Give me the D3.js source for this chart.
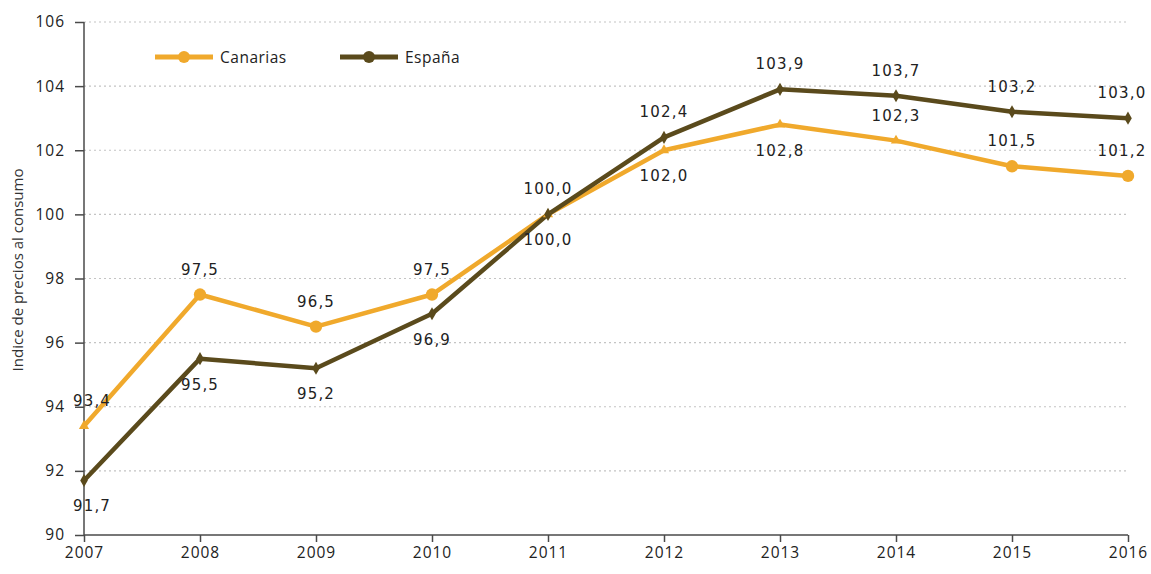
<!DOCTYPE html>
<html>
<head>
<meta charset="utf-8">
<script src="https://cdn.jsdelivr.net/npm/d3@7"></script>
<style>
  html, body { margin: 0; padding: 0; background: #fff; }
  svg { display: block; }
</style>
</head>
<body>
<svg id="chart" width="1151" height="574"></svg>
<script>
// Consumer price index, 2007-2016
const years = [2007, 2008, 2009, 2010, 2011, 2012, 2013, 2014, 2015, 2016];
const canarias = [93.4, 97.5, 96.5, 97.5, 100.0, 102.0, 102.8, 102.3, 101.5, 101.2];
const espana = [91.7, 95.5, 95.2, 96.9, 100.0, 102.4, 103.9, 103.7, 103.2, 103.0];
const yTicks = [90, 92, 94, 96, 98, 100, 102, 104, 106];
const seriesNames = ["Canarias", "España"];
const yTitle = "Indice de precios al consumo";

const colCan = "#F0A92C";
const colEsp = "#5A4A1C";

const svg = d3.select("#chart");
const x = d3.scaleLinear().domain([2007, 2016]).range([84, 1128]);
const y = d3.scaleLinear().domain([90, 106]).range([535, 22]);

// dotted gridlines
svg.append("g").selectAll("line")
  .data(yTicks.filter(t => t > 90))
  .join("line")
  .attr("x1", x(2007)).attr("x2", x(2016))
  .attr("y1", d => y(d)).attr("y2", d => y(d))
  .attr("stroke", "#c4c4c4").attr("stroke-width", 1.2)
  .attr("stroke-dasharray", "2,3");

// axes
const yAxis = svg.append("g").attr("transform", `translate(${x(2007)},0)`)
  .call(d3.axisLeft(y).tickValues(yTicks).tickSize(9).tickPadding(10).tickFormat(d3.format("d")));
const xAxis = svg.append("g").attr("transform", `translate(0,${y(90)})`)
  .call(d3.axisBottom(x).tickValues(years).tickSize(7).tickPadding(5).tickFormat(d3.format("d")));
[yAxis, xAxis].forEach(g => {
  g.select(".domain").attr("stroke", "#4a4a4a").attr("stroke-width", 1.5);
  g.selectAll(".tick line").attr("stroke", "#4a4a4a").attr("stroke-width", 1.5);
  g.selectAll("text").attr("font-family", "'Open Sans', sans-serif")
    .attr("font-size", 15.5).attr("fill", "#222").style("letter-spacing", "1px");
});
yAxis.select(".domain").attr("d", `M0,${y(106)}V${y(90)}`);
xAxis.select(".domain").attr("d", `M${x(2007)},0H${x(2016)}`);

// y title
svg.append("text")
  .attr("transform", `translate(23,${270}) rotate(-90)`)
  .attr("text-anchor", "middle")
  .attr("font-family", "'Open Sans', sans-serif").attr("font-size", 15)
  .attr("fill", "#333").text(yTitle);

const line = d3.line().x((d, i) => x(years[i])).y(d => y(d));

function drawSeries(vals, color, width) {
  svg.append("path").datum(vals)
    .attr("fill", "none").attr("stroke", color)
    .attr("stroke-width", width).attr("stroke-linejoin", "round")
    .attr("d", line);
}
drawSeries(canarias, colCan, 4.5);
drawSeries(espana, colEsp, 4.5);

// Canarias markers: round dots on some years, small pointers on the rest
const canDot = new Set([2008, 2009, 2010, 2015, 2016]);
svg.append("g").selectAll("path")
  .data(canarias.map((v, i) => ({ v, yr: years[i] })))
  .join("path")
  .attr("transform", d => `translate(${x(d.yr)},${y(d.v)})`)
  .attr("d", d => canDot.has(d.yr)
    ? d3.symbol(d3.symbolCircle, 120)()
    : d3.symbol(d3.symbolTriangle, 45)())
  .attr("fill", colCan);

svg.append("g").selectAll("path")
  .data(espana.map((v, i) => ({ v, yr: years[i] })))
  .join("path")
  .attr("transform", d => `translate(${x(d.yr)},${y(d.v)})`)
  .attr("d", d3.symbol(d3.symbolDiamond, 50)())
  .attr("fill", colEsp);

// value labels
const fmt = v => d3.format(".1f")(v).replace(".", ",");
const canBelow = new Set([2011, 2012, 2013]);
const espAbove = new Set([2011, 2012, 2013, 2014, 2015, 2016]);
const shiftX = yr => yr === 2007 ? 8 : (yr === 2016 ? -6 : 0);
function labels(vals, isBelow) {
  svg.append("g").selectAll("text")
    .data(vals.map((v, i) => ({ v, yr: years[i] })))
    .join("text")
    .attr("x", d => x(d.yr) + shiftX(d.yr))
    .attr("y", d => y(d.v) + (isBelow(d.yr) ? 31 : -20))
    .attr("text-anchor", "middle")
    .attr("font-family", "'DejaVu Sans', sans-serif").attr("font-size", 15)
    .style("letter-spacing", "1.2px")
    .attr("fill", "#222")
    .text(d => fmt(d.v));
}
labels(canarias, yr => canBelow.has(yr));
labels(espana, yr => !espAbove.has(yr));

// legend
const legend = [
  { name: seriesNames[0], color: colCan, x0: 155 },
  { name: seriesNames[1], color: colEsp, x0: 340 }
];
const lg = svg.append("g").selectAll("g").data(legend).join("g")
  .attr("transform", d => `translate(${d.x0},57)`);
lg.append("line").attr("x1", 0).attr("x2", 58).attr("y1", 0).attr("y2", 0)
  .attr("stroke", d => d.color).attr("stroke-width", 5);
lg.append("circle").attr("cx", 29).attr("cy", 0).attr("r", 6).attr("fill", d => d.color);
lg.append("text").attr("x", 65).attr("y", 5.5)
  .attr("font-family", "'Open Sans', sans-serif").attr("font-size", 15.5)
  .style("letter-spacing", "0.5px")
  .attr("fill", "#222").text(d => d.name);
</script>
</body>
</html>
